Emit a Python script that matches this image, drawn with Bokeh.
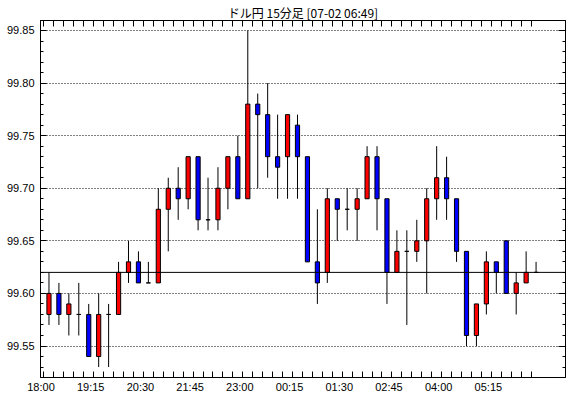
import numpy as np
from bokeh.plotting import figure
from bokeh.models import (Range1d, LinearAxis, FixedTicker, SingleIntervalTicker,
                          Span, PrintfTickFormatter, ColumnDataSource,
                          CustomJSTickFormatter)
from bokeh.embed import file_html
from bokeh.resources import INLINE

# ---- data (USD/JPY, 15-minute candles) ----
opens  = [99.58, 99.60, 99.58, 99.58, 99.58, 99.54, 99.58, 99.58, 99.62, 99.63,
          99.61, 99.61, 99.68, 99.70, 99.69, 99.73, 99.67, 99.67, 99.70, 99.73,
          99.69, 99.78, 99.77, 99.73, 99.73, 99.76, 99.73, 99.63, 99.62, 99.69,
          99.68, 99.68, 99.69, 99.73, 99.69, 99.62, 99.64, 99.64, 99.65, 99.69,
          99.71, 99.69, 99.64, 99.56, 99.59, 99.63, 99.65, 99.60, 99.61, 99.62]
highs  = [99.62, 99.61, 99.60, 99.61, 99.59, 99.60, 99.59, 99.63, 99.65, 99.64,
          99.63, 99.70, 99.71, 99.72, 99.73, 99.73, 99.71, 99.72, 99.73, 99.75,
          99.85, 99.79, 99.80, 99.77, 99.77, 99.77, 99.73, 99.68, 99.70, 99.69,
          99.70, 99.70, 99.74, 99.74, 99.69, 99.66, 99.66, 99.67, 99.70, 99.74,
          99.73, 99.69, 99.64, 99.59, 99.64, 99.63, 99.65, 99.62, 99.64, 99.63]
lows   = [99.57, 99.57, 99.56, 99.56, 99.54, 99.53, 99.53, 99.58, 99.61, 99.61,
          99.61, 99.61, 99.64, 99.67, 99.68, 99.66, 99.66, 99.66, 99.68, 99.69,
          99.69, 99.70, 99.71, 99.69, 99.69, 99.69, 99.63, 99.59, 99.61, 99.65,
          99.66, 99.65, 99.69, 99.66, 99.59, 99.62, 99.57, 99.63, 99.60, 99.67,
          99.67, 99.63, 99.55, 99.55, 99.58, 99.60, 99.60, 99.58, 99.61, 99.62]
closes = [99.60, 99.58, 99.59, 99.58, 99.54, 99.58, 99.58, 99.62, 99.63, 99.61,
          99.61, 99.68, 99.70, 99.69, 99.73, 99.67, 99.67, 99.70, 99.73, 99.69,
          99.78, 99.77, 99.73, 99.72, 99.77, 99.73, 99.63, 99.61, 99.69, 99.68,
          99.68, 99.69, 99.73, 99.69, 99.62, 99.64, 99.64, 99.65, 99.69, 99.71,
          99.69, 99.64, 99.56, 99.59, 99.63, 99.62, 99.60, 99.61, 99.62, 99.62]
tick_labels = ["18:00", "19:15", "20:30", "21:45", "23:00",
               "00:15", "01:30", "02:45", "04:00", "05:15"]
label_step = 5          # one label every 5 candles (75 minutes)
current_price = 99.62
title_text = "ドル円 15分足 [07-02 06:49]"

# ---- derived columns ----
n = len(opens)
xs = [i + 0.5 for i in range(n)]
tops = [max(o, c) for o, c in zip(opens, closes)]
bots = [min(o, c) for o, c in zip(opens, closes)]
colors = ["#FF0000" if c > o else ("#0000FF" if c < o else "black")
          for o, c in zip(opens, closes)]
src = ColumnDataSource(dict(x=xs, high=highs, low=lows, top=tops,
                            bottom=bots, color=colors))

FONT = "'Liberation Sans Narrow', 'Liberation Sans', sans-serif"
Y0, Y1 = 99.52005, 99.8595

p = figure(width=570, height=398, output_backend="svg", toolbar_location=None,
           x_range=Range1d(-0.352, 52.46), y_range=Range1d(Y0, Y1),
           min_border_left=40, min_border_right=5, min_border_top=20,
           min_border_bottom=21, x_axis_location=None, y_axis_location=None)
p.background_fill_color = "white"
p.border_fill_color = "white"
p.outline_line_color = "black"
p.outline_line_width = 1

# title
p.title.text = title_text
p.title.align = "center"
p.title.text_font = "Noto Sans CJK JP"
p.title.text_font_size = "12px"
p.title.text_font_style = "normal"
p.title.text_color = "black"
p.title.standoff = 0
p.title.offset = 0

# bottom axis: a tick at every candle, a label every 5 candles
label_pos = [k * label_step - 0.3 for k in range(len(tick_labels))]
xb = LinearAxis(ticker=FixedTicker(ticks=label_pos, minor_ticks=list(range(n))))
xb.major_label_overrides = {pos: lab for pos, lab in zip(label_pos, tick_labels)}
xb.axis_line_color = "black"
xb.major_tick_in = 0
xb.major_tick_out = 0
xb.minor_tick_in = 6
xb.minor_tick_out = 0
xb.minor_tick_line_color = "black"
xb.major_label_text_font = FONT
xb.major_label_text_font_size = "11px"
xb.major_label_text_color = "black"
xb.major_label_standoff = 3
p.add_layout(xb, "below")

# top axis: ticks only
xt = LinearAxis(ticker=FixedTicker(ticks=[], minor_ticks=list(range(n))))
xt.axis_line_color = "black"
xt.minor_tick_in = 6
xt.minor_tick_out = 0
xt.minor_tick_line_color = "black"
p.add_layout(xt, "above")

# y axes (left with labels, right ticks only)
y_ticker = SingleIntervalTicker(interval=0.05, num_minor_ticks=5)
ay = LinearAxis(ticker=y_ticker, formatter=PrintfTickFormatter(format="%.2f"))
ay.axis_line_color = "black"
ay.major_tick_in = 6
ay.major_tick_out = 0
ay.minor_tick_in = 3
ay.minor_tick_out = 0
ay.major_tick_line_color = "black"
ay.minor_tick_line_color = "black"
ay.major_label_text_font = FONT
ay.major_label_text_font_size = "11px"
ay.major_label_text_color = "black"
ay.major_label_standoff = 6
p.add_layout(ay, "left")

ar = LinearAxis(ticker=y_ticker, formatter=CustomJSTickFormatter(code="return ''"))
ar.axis_line_color = "black"
ar.major_tick_in = 7
ar.major_tick_out = 0
ar.minor_tick_in = 3
ar.minor_tick_out = 0
ar.major_tick_line_color = "black"
ar.minor_tick_line_color = "black"
ar.major_label_standoff = 0
p.add_layout(ar, "right")

p.ygrid.ticker = y_ticker
p.xgrid.visible = False
p.ygrid.grid_line_color = "black"
p.ygrid.grid_line_dash = "1 2"
p.ygrid.grid_line_width = 1

# current price line
p.add_layout(Span(location=current_price, dimension="width",
                  line_color="black", line_width=1))

# candles
p.segment(x0="x", y0="low", x1="x", y1="high", source=src,
          line_color="black", line_width=1)
p.vbar(x="x", width=0.42, top="top", bottom="bottom", source=src,
       fill_color="color", line_color="black", line_width=1)

open("out.html", "w").write(file_html(p, INLINE))
